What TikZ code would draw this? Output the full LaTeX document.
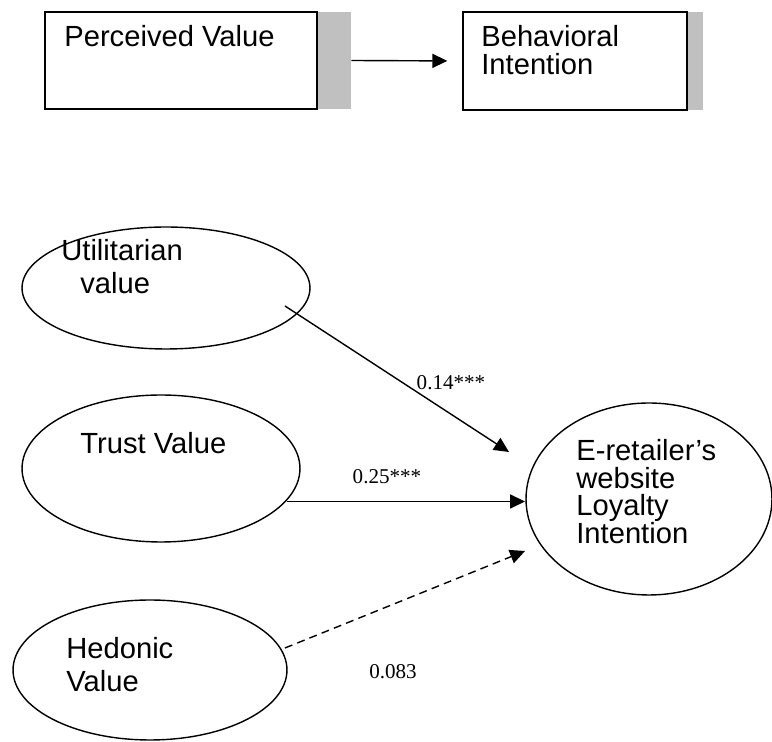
\documentclass[tikz,border=0pt]{standalone}
\usepackage{fontspec}
\setmainfont{Liberation Sans}
\newfontfamily\coeffont{Liberation Serif}
\usetikzlibrary{shapes.geometric,arrows.meta}
\definecolor{shadegray}{HTML}{C0C0C0}

\begin{document}
\begin{tikzpicture}[x=0.02cm,y=-0.02cm,
  box/.style={draw,line width=0.9pt,inner sep=0},
  shadebar/.style={fill=shadegray,inner sep=0},
  construct/.style={draw,ellipse,line width=0.8pt,inner sep=0},
  lbl/.style={inner sep=0,anchor=north west,align=left,font=\fontsize{16.6}{18.8}\selectfont},
  coef/.style={inner sep=0,font=\coeffont\fontsize{12}{14}\selectfont},
  effect/.style={line width=0.8pt,-{Triangle[length=8.5pt,width=8pt]}}]
  \useasboundingbox (0,0) rectangle (772,742);
  % general model
  \node[shadebar,minimum width=0.68cm,minimum height=1.94cm] (pvshade) at (334,60.5) {};
  \node[box,minimum width=5.44cm,minimum height=1.94cm] (pv) at (181,60.5) {};
  \node[shadebar,minimum width=0.32cm,minimum height=1.96cm] (bishade) at (695,61) {};
  \node[box,minimum width=4.48cm,minimum height=1.96cm] (bi) at (575,61) {};
  \node[lbl] (pvtext) at (64,25) {Perceived Value};
  \node[lbl,font=\fontsize{16.6}{15.9}\selectfont] (bitext) at (481,25) {Behavioral\\Intention};
  \draw[effect,shorten >=8.5pt] (pvshade.east) -- (bi.west);
  % research model
  \node[construct,minimum width=5.76cm,minimum height=2.44cm] (util) at (166,288) {};
  \node[construct,minimum width=5.56cm,minimum height=2.94cm] (trust) at (161,468.5) {};
  \node[construct,minimum width=5.48cm,minimum height=2.8cm] (hedon) at (150,670) {};
  \node[construct,minimum width=4.92cm,minimum height=3.84cm] (loyal) at (649,499) {};
  \node[lbl] (utiltext) at (61,239) {Utilitarian\\\hspace*{0.65em}value};
  \node[lbl] (trusttext) at (80,432) {Trust Value};
  \node[lbl] (hedontext) at (66,637) {Hedonic\\Value};
  \node[lbl,font=\fontsize{16.6}{15.8}\selectfont] (loyaltext) at (576,439) {E-retailer’s\\website\\Loyalty\\Intention};
  \coordinate (u0) at (285,306);
  \coordinate (u1) at (509,452);
  \coordinate (t0) at (287,501.5);
  \coordinate (t1) at (525,501.5);
  \coordinate (h0) at (285,648);
  \coordinate (h1) at (525,551);
  \draw[effect] (u0) -- (u1);
  \draw[effect] (t0) -- (t1);
  \draw[effect,dash pattern=on 4.5pt off 3pt] (h0) -- (h1);
  \node[coef] (ucoef) at (451,383) {0.14***};
  \node[coef] (tcoef) at (387,477) {0.25***};
  \node[coef] (hcoef) at (393,672) {0.083};
\end{tikzpicture}
\end{document}
